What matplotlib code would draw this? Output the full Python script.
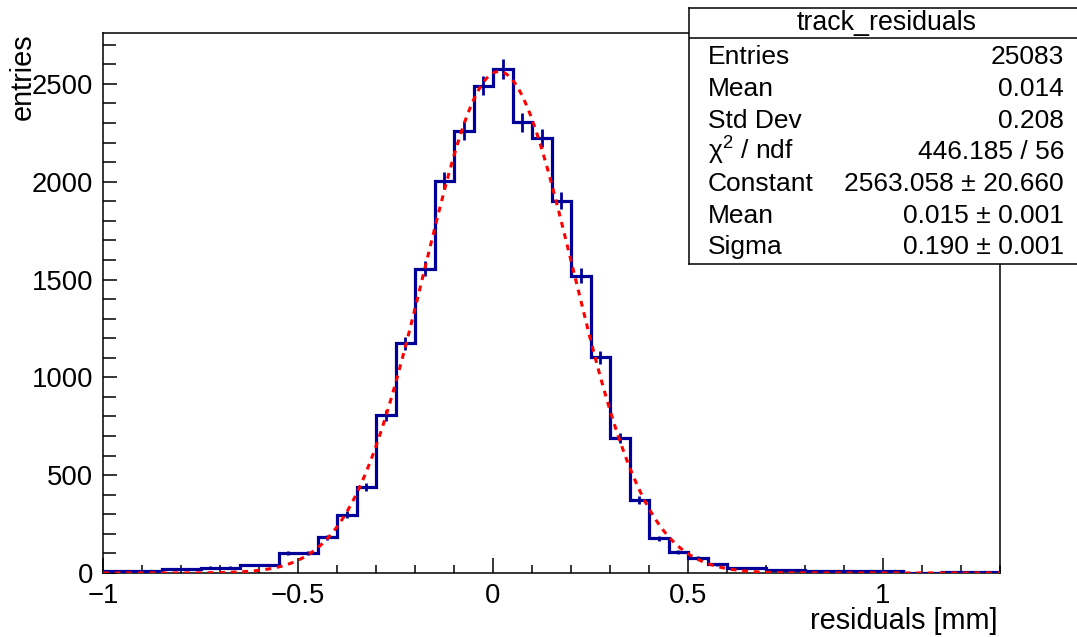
import numpy as np
import matplotlib
matplotlib.use("Agg")
import matplotlib.pyplot as plt
from matplotlib.ticker import MultipleLocator

plt.rcParams['font.family'] = ['Liberation Sans', 'DejaVu Sans']
plt.rcParams['mathtext.fontset'] = 'custom'
plt.rcParams['mathtext.rm'] = 'Liberation Sans'
plt.rcParams['mathtext.it'] = 'Liberation Sans:italic'

# histogram: 0.05 wide bins from -1 to 1.3
bin_edges = np.round(np.arange(-1.0, 1.3001, 0.05), 3)
counts = [9, 9, 9, 20, 20, 28, 28, 41, 41, 102,
          102, 182, 298, 438, 806, 1174, 1556, 2006, 2261, 2491,
          2574, 2304, 2224, 1902, 1520, 1103, 689, 373, 177, 107,
          77, 44, 27, 27, 13, 13, 9, 9, 8, 8,
          8, 2, 2, 7, 7, 3]

# gaussian fit parameters (from the stats box)
fit_const = 2563.058
fit_mean = 0.015
fit_sigma = 0.190

stats_names = ["Entries", "Mean", "Std Dev", "\u03c7$^{2}$ / ndf", "Constant", "Mean", "Sigma"]
stats_values = ["25083", "0.014", "0.208", "446.185 / 56", "2563.058 \u00b1 20.660",
                "0.015 \u00b1 0.001", "0.190 \u00b1 0.001"]

W, H = 1077, 637
blue = '#000099'
red = '#ff0000'


def fx(px):
    return px / W


def fy(py):
    return 1 - py / H


fig = plt.figure(figsize=(W / 100, H / 100), dpi=100)
ax = fig.add_axes([fx(103), fy(573), fx(1000) - fx(103), fy(33) - fy(573)])

counts = np.array(counts, dtype=float)
centers = 0.5 * (bin_edges[:-1] + bin_edges[1:])

ax.stairs(counts, bin_edges, baseline=None, color=blue, lw=2.3, zorder=3)
ax.errorbar(centers, counts, yerr=np.sqrt(counts), fmt='none', ecolor=blue,
            elinewidth=2.0, capsize=0, zorder=3)

xf = np.linspace(-1.0, 1.3, 600)
yf = fit_const * np.exp(-0.5 * ((xf - fit_mean) / fit_sigma) ** 2)
ax.plot(xf, yf, color=red, lw=2.2, dashes=(1.9, 1.9), zorder=4)

ax.set_xlim(-1.0, 1.3)
ax.set_ylim(0, 2760)
ax.xaxis.set_major_locator(MultipleLocator(0.5))
ax.xaxis.set_minor_locator(MultipleLocator(0.1))
ax.yaxis.set_major_locator(MultipleLocator(500))
ax.yaxis.set_minor_locator(MultipleLocator(100))
ax.xaxis.set_major_formatter(plt.FuncFormatter(lambda v, p: ('%g' % v).replace('-', '\u2212')))
ax.tick_params(which='both', direction='in', top=False, right=False, labelsize=19.8, width=1.1)
ax.tick_params(axis='x', which='major', length=11, pad=7)
ax.tick_params(axis='x', which='minor', length=5.5)
ax.tick_params(axis='y', which='major', length=10, pad=7)
ax.tick_params(axis='y', which='minor', length=9.5)
for s in ax.spines.values():
    s.set_linewidth(1.1)

fig.text(fx(997), fy(621), "residuals [mm]", ha='right', va='center', fontsize=20.8)
fig.text(fx(23), fy(33), "entries", ha='center', va='top', rotation=90, fontsize=20.8)

# stats box
box = fig.add_axes([fx(689), fy(264), fx(1100) - fx(689), fy(8) - fy(264)])
box.set_xlim(689, 1100)
box.set_ylim(264, 8)
box.set_xticks([])
box.set_yticks([])
box.set_facecolor('white')
for s in box.spines.values():
    s.set_linewidth(1.1)
box.axhline(38, color='black', lw=1.1)
box.text(887, 23, "track_residuals", ha='center', va='center', fontsize=19.3)
for i, (name, val) in enumerate(zip(stats_names, stats_values)):
    yb = 64.5 + i * 31.6
    box.text(708, yb, name, ha='left', va='baseline', fontsize=19)
    box.text(1064, yb, val, ha='right', va='baseline', fontsize=19)

fig.savefig("out.png", dpi=100)
